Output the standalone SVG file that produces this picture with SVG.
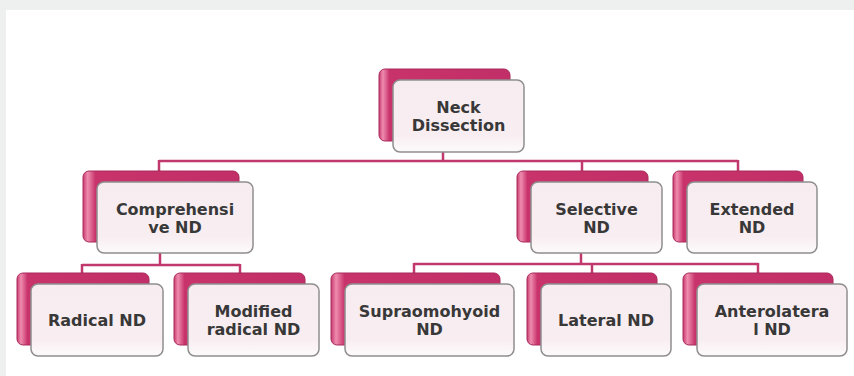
<svg xmlns="http://www.w3.org/2000/svg" width="854" height="376" viewBox="0 0 854 376">
<defs>
<linearGradient id="back" x1="0" y1="0" x2="1" y2="0">
<stop offset="0" stop-color="#c83a6e"/>
<stop offset="0.03" stop-color="#ee8cae"/>
<stop offset="0.08" stop-color="#c8336b"/>
<stop offset="1" stop-color="#c22e67"/>
</linearGradient>
<linearGradient id="front" x1="0" y1="0" x2="0" y2="1">
<stop offset="0" stop-color="#f7ecf0"/>
<stop offset="0.75" stop-color="#f8edf1"/>
<stop offset="1" stop-color="#fdfafb"/>
</linearGradient>
<style>
.bk{fill:url(#back);stroke:#a92a5c;stroke-width:1}
.fr{fill:url(#front);stroke:#8e8e8e;stroke-width:1.5}
.t{font-family:"DejaVu Sans",sans-serif;font-weight:bold;font-size:16px;fill:#383838;text-anchor:middle}
.c{fill:none;stroke:#c0386c;stroke-width:2.5}
</style>
</defs>
<rect x="0" y="0" width="854" height="376" fill="#eef0ef"/>
<rect x="6" y="10" width="848" height="366" fill="#ffffff"/>
<g id="connectors">
<path class="c" d="M443 152V161M159 161H738M159 160V172M582 160V172M738 160V172"/>
<path class="c" d="M160 253V265M82 265H240M82 264V273M240 264V273"/>
<path class="c" d="M581 252V264M414 264H758M414 263V273M592 263V273M758 263V273"/>
</g>
<g id="n-root">
<rect class="bk" x="379" y="69" width="131" height="72" rx="6"/>
<rect class="fr" x="393" y="80" width="131" height="72" rx="7"/>
<text class="t" x="458.5" y="113">Neck</text>
<text class="t" x="458.5" y="131">Dissection</text>
</g>
<g id="n-comprehensive">
<rect class="bk" x="83" y="171" width="156" height="71" rx="6"/>
<rect class="fr" x="97" y="182" width="156" height="71" rx="7"/>
<text class="t" x="175" y="215">Comprehensi</text>
<text class="t" x="175" y="233">ve ND</text>
</g>
<g id="n-selective">
<rect class="bk" x="517" y="171" width="131" height="71" rx="6"/>
<rect class="fr" x="531" y="182" width="131" height="71" rx="7"/>
<text class="t" x="596.5" y="215">Selective</text>
<text class="t" x="596.5" y="233">ND</text>
</g>
<g id="n-extended">
<rect class="bk" x="673" y="171" width="130" height="71" rx="6"/>
<rect class="fr" x="687" y="182" width="130" height="71" rx="7"/>
<text class="t" x="752" y="215">Extended</text>
<text class="t" x="752" y="233">ND</text>
</g>
<g id="n-radical">
<rect class="bk" x="17" y="273" width="132" height="72" rx="6"/>
<rect class="fr" x="31" y="284" width="132" height="72" rx="7"/>
<text class="t" x="97" y="326">Radical ND</text>
</g>
<g id="n-modified">
<rect class="bk" x="174" y="273" width="131" height="72" rx="6"/>
<rect class="fr" x="188" y="284" width="131" height="72" rx="7"/>
<text class="t" x="253.5" y="317">Modified</text>
<text class="t" x="253.5" y="335">radical ND</text>
</g>
<g id="n-supraomohyoid">
<rect class="bk" x="331" y="273" width="169" height="72" rx="6"/>
<rect class="fr" x="345" y="284" width="169" height="72" rx="7"/>
<text class="t" x="429.5" y="317">Supraomohyoid</text>
<text class="t" x="429.5" y="335">ND</text>
</g>
<g id="n-lateral">
<rect class="bk" x="527" y="273" width="130" height="72" rx="6"/>
<rect class="fr" x="541" y="284" width="130" height="72" rx="7"/>
<text class="t" x="606" y="326">Lateral ND</text>
</g>
<g id="n-anterolateral">
<rect class="bk" x="683" y="273" width="150" height="72" rx="6"/>
<rect class="fr" x="697" y="284" width="150" height="72" rx="7"/>
<text class="t" x="772" y="317">Anterolatera</text>
<text class="t" x="772" y="335">l ND</text>
</g>
</svg>
